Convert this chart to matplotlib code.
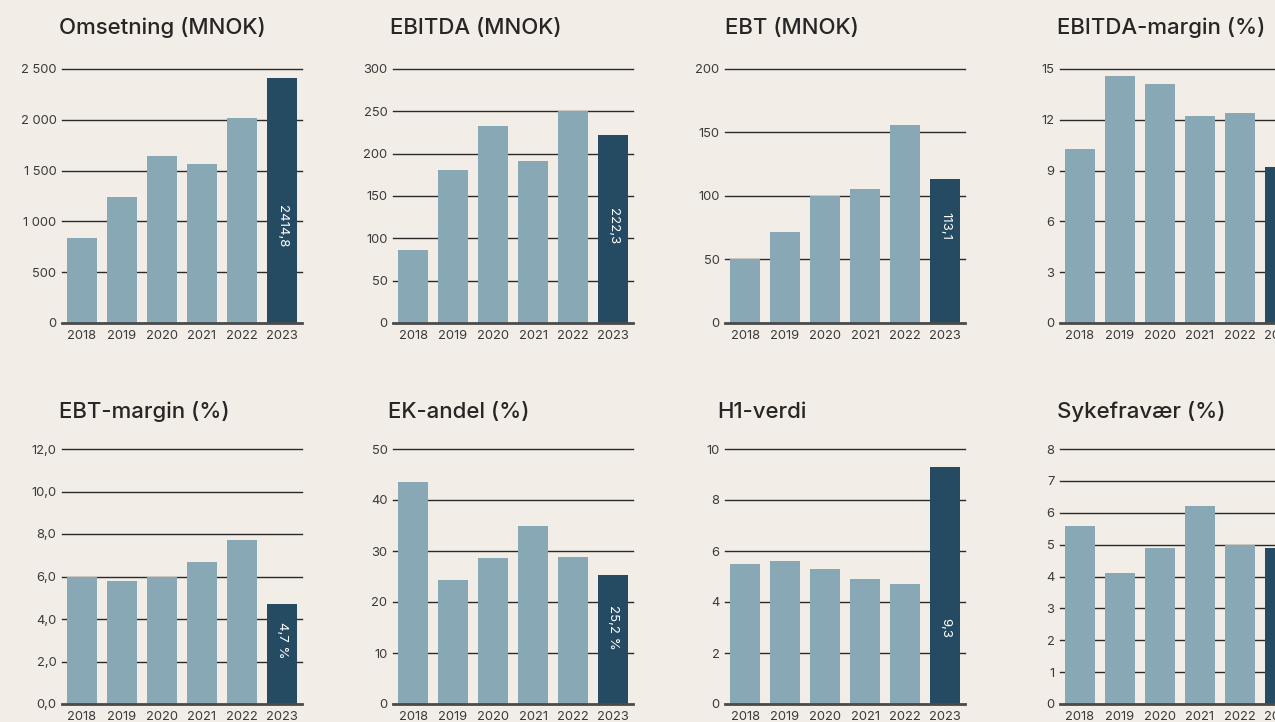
import matplotlib
matplotlib.use("Agg")
import matplotlib.pyplot as plt
from matplotlib.ticker import FuncFormatter

# data
years = ["2018", "2019", "2020", "2021", "2022", "2023"]
titles = ["Omsetning (MNOK)", "EBITDA (MNOK)", "EBT (MNOK)", "EBITDA-margin (%)",
          "EBT-margin (%)", "EK-andel (%)", "H1-verdi", "Sykefravær (%)"]
omsetning = [840, 1243, 1647, 1568, 2021, 2414.8]
ebitda = [86.6, 181, 233, 191.7, 250.9, 222.3]
ebt = [50.6, 71.9, 99.7, 105.7, 156, 113.1]
ebitda_margin = [10.3, 14.6, 14.1, 12.2, 12.4, 9.2]
ebt_margin = [6.0, 5.8, 6.0, 6.7, 7.7, 4.7]
ek_andel = [43.5, 24.4, 28.7, 35.0, 28.9, 25.2]
h1_verdi = [5.5, 5.6, 5.3, 4.9, 4.7, 9.3]
sykefravaer = [5.6, 4.1, 4.9, 6.2, 5.0, 4.9]
value_labels = ["2414,8", "222,3", "113,1", "9,2 %", "4,7 %", "25,2 %", "9,3", "4,9 %"]
y_max = [2500, 300, 200, 15, 12, 50, 10, 8]
y_step = [500, 50, 50, 3, 2, 10, 2, 1]
tick_fmt = ["thousands", "int", "int", "int", "comma", "int", "int", "int"]

series = [omsetning, ebitda, ebt, ebitda_margin, ebt_margin, ek_andel, h1_verdi, sykefravaer]

# layout (pixels in a 1275x722 canvas)
W, H = 1275, 722
col_left = [62, 393, 725, 1060]
title_x = [59, 390, 725, 1057, 59, 388, 717, 1057]
row_top = [69, 449]
row_bottom = [323, 704]
title_y = [28, 412]
label_frac = [0.38, 0.38, 0.38, 0.30, 0.25, 0.30, 0.30, 0.30]

bg = "#F2EDE6"
light = "#87A8B4"
dark = "#244B61"
grid_col = "#2a2a2a"
text_col = "#262626"
font = ["Inter", "DejaVu Sans"]

plt.rcParams['font.family'] = font

fig = plt.figure(figsize=(W / 100, H / 100), dpi=100, facecolor=bg)


def make_formatter(kind):
    def f(v, pos):
        if kind == "thousands":
            return f"{int(v):,}".replace(",", " ")
        if kind == "comma":
            return f"{v:.1f}".replace(".", ",")
        return f"{int(v)}"
    return FuncFormatter(f)


for i, vals in enumerate(series):
    row = i // 4
    col = i % 4
    left = col_left[col] / W
    bottom = (H - row_bottom[row]) / H
    height = (row_bottom[row] - row_top[row]) / H
    ax = fig.add_axes([left, bottom, 240 / W, height])
    ax.set_facecolor(bg)

    colors = [light] * (len(years) - 1) + [dark]
    x = list(range(len(years)))
    ax.bar(x, vals, width=0.74, color=colors, zorder=3)
    ax.set_xlim(-0.5, 5.5)
    ax.set_ylim(0, y_max[i])

    ticks = [k * y_step[i] for k in range(int(round(y_max[i] / y_step[i])) + 1)]
    ax.set_yticks(ticks)
    ax.yaxis.set_major_formatter(make_formatter(tick_fmt[i]))
    for t in ticks[1:]:
        ax.axhline(t, color=grid_col, lw=1.0, zorder=1, clip_on=False)

    ax.set_xticks(x)
    ax.set_xticklabels(years)
    ax.tick_params(axis='both', length=0, labelsize=9.3, colors="#3a3a3a")
    ax.tick_params(axis='y', pad=4)
    ax.tick_params(axis='x', pad=5)

    for side in ["left", "right", "top"]:
        ax.spines[side].set_visible(False)
    ax.spines["bottom"].set_color("#4a4a4a")
    ax.spines["bottom"].set_linewidth(2)
    ax.spines["bottom"].set_zorder(4)

    # value on the last bar
    ax.text(5, label_frac[i] * y_max[i], value_labels[i], rotation=270,
            ha='center', va='center', color='white', fontsize=9.5, zorder=5)

    fig.text(title_x[i] / W, 1 - title_y[row] / H, titles[i], ha='left', va='center',
             fontsize=16, color=text_col, fontweight='medium')

fig.savefig("out.png", dpi=100, facecolor=bg)
